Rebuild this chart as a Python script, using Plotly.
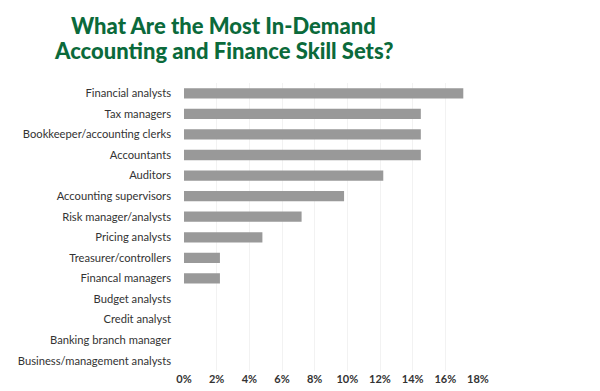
import plotly.graph_objects as go

categories = ["Financial analysts", "Tax managers", "Bookkeeper/accounting clerks", "Accountants",
              "Auditors", "Accounting supervisors", "Risk manager/analysts", "Pricing analysts",
              "Treasurer/controllers", "Financal managers", "Budget analysts", "Credit analyst",
              "Banking branch manager", "Business/management analysts"]
values = [17.1, 14.5, 14.5, 14.5, 12.2, 9.8, 7.2, 4.8, 2.2, 2.2, 0, 0, 0, 0]
tick_vals = [0, 2, 4, 6, 8, 10, 12, 14, 16, 18]
tick_text = [f"{v}%" for v in tick_vals]
title_lines = ["What Are the Most In-Demand", "Accounting and Finance Skill Sets?"]

fig = go.Figure(go.Bar(
    x=values, y=categories, orientation="h",
    marker=dict(color="#999999", line=dict(width=0)),
))

for i, line in enumerate(title_lines):
    fig.add_annotation(
        text=line, xref="paper", yref="paper",
        x=(223 - 184) / 294, xanchor="center",
        y=1 + (83 - (25.5 + 25 * i)) / 288, yanchor="middle",
        showarrow=False,
        font=dict(family="Lato", size=22, color="#0b6a3b", weight=900),
    )

fig.update_layout(
    width=600, height=391,
    margin=dict(l=184, r=122, t=83, b=20),
    paper_bgcolor="white", plot_bgcolor="white",
    bargap=0.5,
    showlegend=False,
    font=dict(family="Lato", size=11, color="#333333"),
)
fig.update_xaxes(range=[0, 18], tickvals=tick_vals, ticktext=tick_text,
                 showgrid=True, gridcolor="#f2f2f2", zeroline=False, showline=False,
                 tickfont=dict(family="Lato", size=11, color="#333333", weight=700),
                 automargin=False, fixedrange=True)
fig.update_yaxes(autorange="reversed", showgrid=False, zeroline=False, showline=False,
                 ticks="", ticklabelstandoff=12, automargin=False,
                 tickfont=dict(family="Lato", size=11.2, color="#333333"))

fig.write_html("out.html")
